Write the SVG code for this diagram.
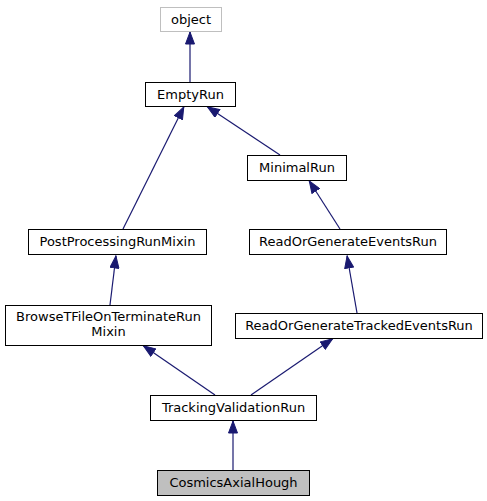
<svg xmlns="http://www.w3.org/2000/svg" width="487" height="501" viewBox="0 0 487 501">
<style>
.n rect{fill:#fff;stroke:#000;stroke-width:1}
.n text{font-family:"DejaVu Sans",sans-serif;font-size:13px;text-anchor:middle;fill:#000}
#object rect{stroke:#bfbfbf}
#CosmicsAxialHough rect{fill:#bfbfbf}
.e line{stroke:#191970;stroke-width:1.2;marker-end:url(#ah)}
</style>
<defs>
<marker id="ah" markerUnits="userSpaceOnUse" markerWidth="13" markerHeight="10" refX="13" refY="5" orient="auto">
<path d="M0.5,0.5 L12.5,5 L0.5,9.5 z" fill="#191970" stroke="#191970" stroke-width="1"/>
</marker>
</defs>
<rect width="487" height="501" fill="#fff"/>
<g id="edges" class="e">
<line x1="190" y1="82" x2="190" y2="31.5"/>
<line x1="280" y1="155" x2="207" y2="106.5"/>
<line x1="123" y1="229" x2="184" y2="106.5"/>
<line x1="340" y1="229" x2="309" y2="180.5"/>
<line x1="110" y1="305" x2="116" y2="255.5"/>
<line x1="357" y1="313" x2="347" y2="255.5"/>
<line x1="215" y1="395" x2="143" y2="345.5"/>
<line x1="251" y1="395" x2="333" y2="338.5"/>
<line x1="233" y1="470" x2="233" y2="420.5"/>
</g>
<g id="object" class="n"><rect x="160.5" y="7.5" width="61" height="24"/><text x="191" y="24">object</text></g>
<g id="EmptyRun" class="n"><rect x="145.5" y="82.5" width="90" height="24"/><text x="190.5" y="99">EmptyRun</text></g>
<g id="MinimalRun" class="n"><rect x="247.5" y="155.5" width="99" height="25"/><text x="297" y="172">MinimalRun</text></g>
<g id="PostProcessingRunMixin" class="n"><rect x="28.5" y="229.5" width="178" height="25"/><text x="117.5" y="246">PostProcessingRunMixin</text></g>
<g id="ReadOrGenerateEventsRun" class="n"><rect x="249.5" y="229.5" width="197" height="25"/><text x="348" y="246">ReadOrGenerateEventsRun</text></g>
<g id="BrowseTFileOnTerminateRunMixin" class="n"><rect x="5.5" y="305.5" width="206" height="40"/><text x="108.5" y="321">BrowseTFileOnTerminateRun</text><text x="108.5" y="336">Mixin</text></g>
<g id="ReadOrGenerateTrackedEventsRun" class="n"><rect x="235.5" y="313.5" width="247" height="25"/><text x="359" y="330">ReadOrGenerateTrackedEventsRun</text></g>
<g id="TrackingValidationRun" class="n"><rect x="150.5" y="395.5" width="166" height="25"/><text x="233.5" y="412">TrackingValidationRun</text></g>
<g id="CosmicsAxialHough" class="n"><rect x="157.5" y="470.5" width="152" height="25"/><text x="233.5" y="487">CosmicsAxialHough</text></g>
</svg>
